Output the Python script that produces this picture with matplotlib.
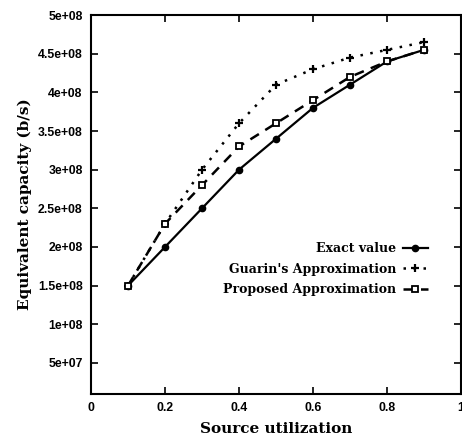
import numpy as np
import matplotlib
matplotlib.use("Agg")
import matplotlib.pyplot as plt

# data
util = [0.1, 0.2, 0.3, 0.4, 0.5, 0.6, 0.7, 0.8, 0.9]
exact = [1.5e8, 2.0e8, 2.5e8, 3.0e8, 3.4e8, 3.8e8, 4.1e8, 4.4e8, 4.55e8]
guarin = [1.5e8, 2.3e8, 3.0e8, 3.6e8, 4.1e8, 4.3e8, 4.45e8, 4.55e8, 4.65e8]
proposed = [1.5e8, 2.3e8, 2.8e8, 3.3e8, 3.6e8, 3.9e8, 4.2e8, 4.4e8, 4.55e8]

xticks = [0, 0.2, 0.4, 0.6, 0.8, 1]
xlabels = ["0", "0.2", "0.4", "0.6", "0.8", "1"]
yticks = [5e7, 1e8, 1.5e8, 2e8, 2.5e8, 3e8, 3.5e8, 4e8, 4.5e8, 5e8]
ylabels = ["5e+07", "1e+08", "1.5e+08", "2e+08", "2.5e+08", "3e+08",
           "3.5e+08", "4e+08", "4.5e+08", "5e+08"]

fig = plt.figure(figsize=(4.62, 4.43), dpi=100)
ax = fig.add_axes([0.197, 0.111, 0.801, 0.855])

ax.plot(util, exact, color="black", lw=1.6, marker="o", ms=4.5,
        label="Exact value")
ax.plot(util, guarin, color="black", lw=1.8, ls=(0, (1, 3)), marker="+",
        ms=6, mew=1.6, label="Guarin's Approximation")
ax.plot(util, proposed, color="black", lw=1.8, ls=(0, (4, 3)), marker="s",
        ms=5, mfc="white", mew=1.3, label="Proposed Approximation")

ax.set_xlim(0, 1)
ax.set_ylim(1e7, 5e8)
ax.set_xticks(xticks)
ax.set_xticklabels(xlabels)
ax.set_yticks(yticks)
ax.set_yticklabels(ylabels)
ax.tick_params(direction="in", top=True, right=True, length=5, width=1.2,
               labelsize=8.8, pad=6)
for lab in ax.get_xticklabels() + ax.get_yticklabels():
    lab.set_fontweight("bold")
    lab.set_family("Liberation Sans")
for s in ax.spines.values():
    s.set_linewidth(1.5)

serif = {"family": "DejaVu Serif", "weight": "bold", "size": 11}
ax.set_xlabel("Source utilization", fontdict=serif, labelpad=6)
ax.set_ylabel("Equivalent capacity (b/s)", fontdict=serif, labelpad=4)

leg = ax.legend(loc="upper right", bbox_to_anchor=(0.94, 0.43),
                markerfirst=False, frameon=False, handlelength=2.0,
                handletextpad=0.5, labelspacing=0.6,
                prop={"family": "DejaVu Serif", "weight": "bold", "size": 9})

fig.savefig("out.png", dpi=100)
